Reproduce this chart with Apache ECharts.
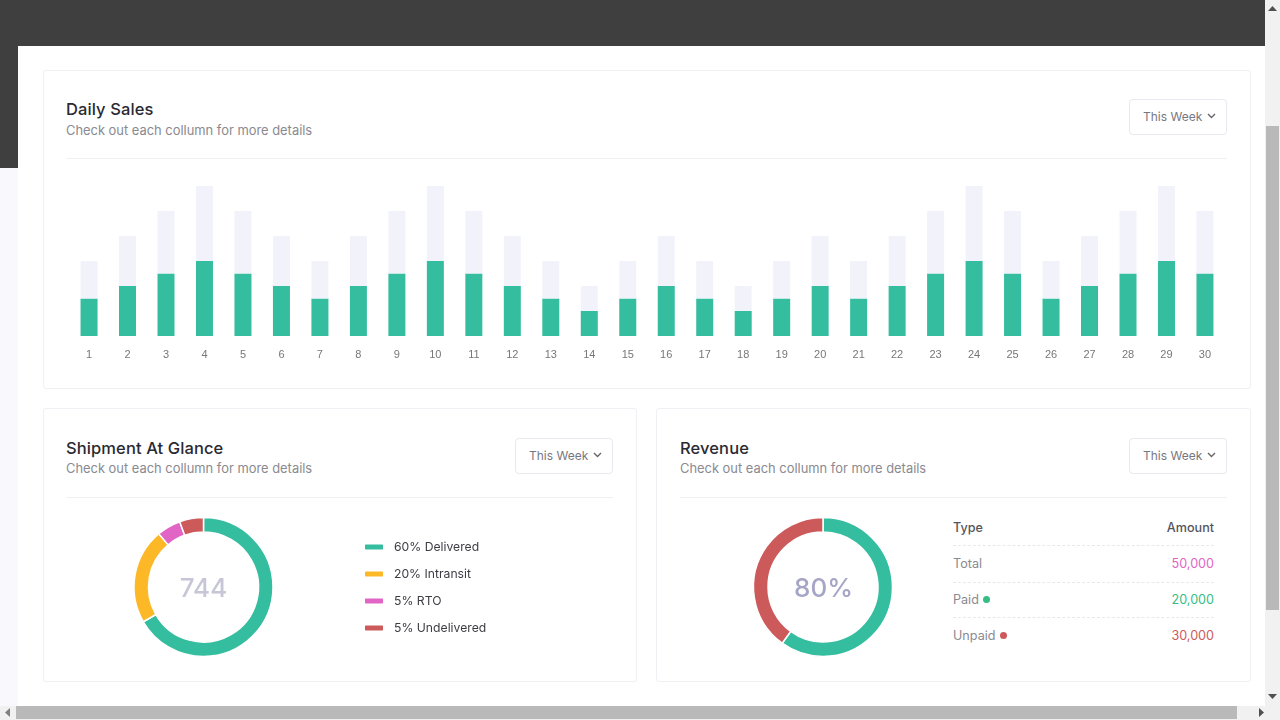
<!DOCTYPE html>
<html><head><meta charset="utf-8">
<script src="https://cdn.jsdelivr.net/npm/echarts@6/dist/echarts.min.js"></script>
<style>
html,body{margin:0;padding:0;width:1280px;height:720px;overflow:hidden;background:#f8f8fd;font-family:Inter,"Noto Sans",sans-serif}
div{position:absolute;box-sizing:border-box}
.card{background:#fff;border:1px solid #f0f0f4;border-radius:3px}
.rule{height:1px;background:#f0f0f3}
.t{font-size:16.5px;font-weight:500;color:#2a2a33;white-space:nowrap;line-height:20px;letter-spacing:.1px}
.s{font-size:12.9px;color:#8a8a91;white-space:nowrap;line-height:16px}
.btn{width:98px;height:36px;border:1px solid #e8e8ee;border-radius:4px;background:#fff;color:#77777f;font-size:12px;line-height:34px;padding-left:13px;white-space:nowrap}
.btn svg{position:absolute;left:77px;top:13px}
.c{font-size:12.6px;white-space:nowrap;line-height:16px}
.d{height:0;border-top:1px dashed #e8e8ec;left:953px;width:261px}
.dot{width:7px;height:7px;border-radius:50%}
</style></head><body>
<div style="left:0;top:0;width:1265px;height:168px;background:#3f3f3f"></div>
<div style="left:18px;top:46px;width:1247px;height:660px;background:#fff"></div>

<div class="card" style="left:43px;top:70px;width:1208px;height:319px"></div>
<div class="card" style="left:43px;top:408px;width:594px;height:274px"></div>
<div class="card" style="left:656px;top:408px;width:595px;height:274px"></div>

<div class="t" style="left:66px;top:99px">Daily Sales</div>
<div class="s" style="left:66px;top:123px">Check out each collumn for more details</div>
<div class="btn" style="left:1129px;top:99px">This Week<svg width="9" height="6"><path d="M1 1l3.5 3.5L8 1" fill="none" stroke="#666" stroke-width="1.4"/></svg></div>
<div class="rule" style="left:66px;top:158px;width:1161px"></div>

<div class="t" style="left:66px;top:438px">Shipment At Glance</div>
<div class="s" style="left:66px;top:461px">Check out each collumn for more details</div>
<div class="btn" style="left:515px;top:438px">This Week<svg width="9" height="6"><path d="M1 1l3.5 3.5L8 1" fill="none" stroke="#666" stroke-width="1.4"/></svg></div>
<div class="rule" style="left:66px;top:497px;width:547px"></div>

<div class="t" style="left:680px;top:438px">Revenue</div>
<div class="s" style="left:680px;top:461px">Check out each collumn for more details</div>
<div class="btn" style="left:1129px;top:438px">This Week<svg width="9" height="6"><path d="M1 1l3.5 3.5L8 1" fill="none" stroke="#666" stroke-width="1.4"/></svg></div>
<div class="rule" style="left:680px;top:497px;width:547px"></div>

<div class="c" style="left:953px;top:520px;color:#55555c;font-weight:500">Type</div>
<div class="c" style="right:66px;top:520px;color:#55555c;font-weight:500">Amount</div>
<div class="d" style="top:545px"></div>
<div class="c" style="left:953px;top:556px;color:#8a8a91">Total</div>
<div class="c" style="right:66px;top:556px;color:#e065c4">50,000</div>
<div class="d" style="top:582px"></div>
<div class="c" style="left:953px;top:592px;color:#8a8a91">Paid</div>
<div class="dot" style="left:983px;top:596px;background:#34bd84"></div>
<div class="c" style="right:66px;top:592px;color:#34bd84">20,000</div>
<div class="d" style="top:617px"></div>
<div class="c" style="left:953px;top:628px;color:#8a8a91">Unpaid</div>
<div class="dot" style="left:1000px;top:632px;background:#cd5a5a"></div>
<div class="c" style="right:66px;top:628px;color:#cd5a5a">30,000</div>

<div id="chart" style="left:0;top:0;width:1280px;height:720px"></div>

<div style="left:1265px;top:0;width:15px;height:720px;background:#f1f1f1"></div>
<div style="left:1266px;top:126px;width:13px;height:484px;background:#b9b9b9"></div>
<div style="left:0;top:706px;width:1280px;height:14px;background:#f1f1f1"></div>
<div style="left:16px;top:706px;width:1221px;height:13px;background:#b9b9b9"></div>
<svg style="position:absolute;left:0;top:0;pointer-events:none" width="1280" height="720">
<path d="M1268 11h9l-4.5-5z" fill="#505050"/><path d="M1268 694h9l-4.5 5z" fill="#505050"/>
<path d="M10 708v9l-5-4.5z" fill="#808080"/><path d="M1259 708v9l5-4.5z" fill="#505050"/>
</svg>

<script>
const days = Array.from({length:30},(_,i)=>String(i+1));
const salesDone = [3,4,5,6,5,4,3,4,5,6,5,4,3,2,3,4,3,2,3,4,3,4,5,6,5,3,4,5,6,5];
const salesRest = [3,4,5,6,5,4,3,4,5,6,5,4,3,2,3,4,3,2,3,4,3,4,5,6,5,3,4,5,6,5];
const shipNames = ['60% Delivered','20% Intransit','5% RTO','5% Undelivered'];
const shipValues = [60,20,5,5];
const shipColors = ['#34bd9e','#fdb827','#e065c4','#cd5a5a'];
const revNames = ['Paid','Unpaid'];
const revValues = [60,40];
const revColors = ['#34bd9e','#cd5a5a'];

const chart = echarts.init(document.getElementById('chart'),null,{renderer:'canvas'});
const pieStyle = {borderColor:'#fff',borderWidth:1.5};
chart.setOption({
  animation:false,
  backgroundColor:'transparent',
  grid:{left:69.8,top:186,width:1154.4,height:150},
  xAxis:{type:'category',data:days,axisLine:{show:false},axisTick:{show:false},
    axisLabel:{interval:0,margin:13,color:'#777777',fontSize:11,fontFamily:'Liberation Sans'}},
  yAxis:{type:'value',min:0,max:12,show:false,splitLine:{show:false}},
  legend:{data:shipNames,orient:'vertical',left:358,top:536,icon:'roundRect',itemWidth:20,itemHeight:7,itemGap:15,
    textStyle:{color:'#3c3c44',fontSize:12.2,fontFamily:'Inter',padding:[0,0,0,5]}},
  title:[
    {text:'744',left:198.5,top:571,textAlign:'center',textStyle:{fontSize:26,fontWeight:500,color:'#c6c6d6',fontFamily:'Inter'}},
    {text:'80%',left:818.5,top:571,textAlign:'center',textStyle:{fontSize:26,fontWeight:500,color:'#a5a5c6',fontFamily:'Inter'}}
  ],
  series:[
    {type:'bar',stack:'s',data:salesDone,barWidth:17,itemStyle:{color:'#34bd9e'},silent:true},
    {type:'bar',stack:'s',data:salesRest,barWidth:17,itemStyle:{color:'#f2f3fa'},silent:true},
    {type:'pie',center:[203.5,587],radius:[55,69.5],startAngle:90,clockwise:true,label:{show:false},silent:true,itemStyle:pieStyle,
      color:shipColors,data:shipNames.map((n,i)=>({name:n,value:shipValues[i]}))},
    {type:'pie',center:[823,587],radius:[55,69.5],startAngle:90,clockwise:true,label:{show:false},silent:true,itemStyle:pieStyle,
      color:revColors,data:revNames.map((n,i)=>({name:n,value:revValues[i]}))}
  ]
});
</script>
</body></html>
